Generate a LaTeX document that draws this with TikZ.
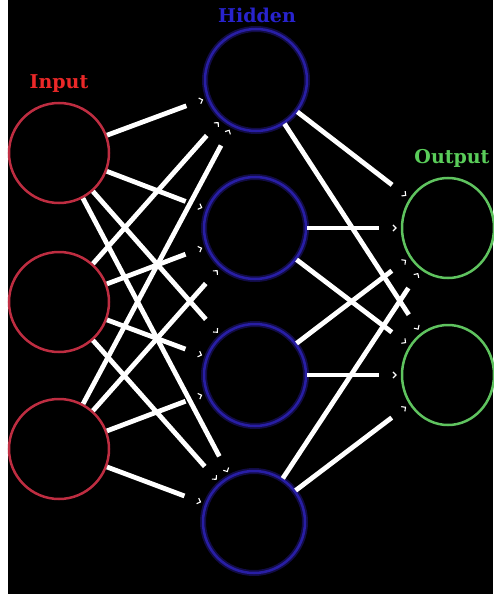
\documentclass[tikz,border=0pt]{standalone}
\usepackage{fontspec}
\setmainfont{DejaVu Serif}
\usetikzlibrary{arrows.meta,decorations.markings,shapes.geometric}
\definecolor{inred}{RGB}{190,45,65}
\definecolor{inlab}{RGB}{235,40,40}
\definecolor{hidblue}{RGB}{40,30,165}
\definecolor{hidglow}{RGB}{18,12,70}
\definecolor{hidlab}{RGB}{40,35,205}
\definecolor{outgreen}{RGB}{95,195,95}
\definecolor{outlab}{RGB}{90,205,90}
\tikzset{
  neuron/.style={circle, line width=2.5pt, minimum size=100pt, inner sep=0pt},
  inneuron/.style={neuron, draw=inred},
  hidneuron/.style={neuron, minimum size=102pt, draw=hidblue,
     preaction={draw=hidglow, line width=6pt}},
  outneuron/.style={ellipse, line width=2.5pt, minimum width=92pt, minimum height=100pt, inner sep=0pt, draw=outgreen},
  lab/.style={font=\bfseries\fontsize{19}{22}\selectfont, inner sep=0pt},
  conn/.style={white, line width=4.8pt, shorten >=22pt,
     postaction={decorate, decoration={markings,
       mark=at position -4pt with {\arrow[white, line width=1.1pt]{Straight Barb[length=3pt,width=6pt]}}}}}
}
\begin{document}
\begin{tikzpicture}[x=1pt,y=-1pt]
\useasboundingbox (0,0) rectangle (493,594);
\fill[white] (0,0) rectangle (493,594);
\fill[black] (8,0) rectangle (493,594);
% input layer
\node[inneuron] (i1) at (59,153) {};
\node[inneuron] (i2) at (59,302) {};
\node[inneuron] (i3) at (59,449) {};
% hidden layer
\node[hidneuron] (h1) at (256,80) {};
\node[hidneuron] (h2) at (255,228) {};
\node[hidneuron] (h3) at (255,375) {};
\node[hidneuron] (h4) at (254,522) {};
% output layer
\node[outneuron] (o1) at (448,228) {};
\node[outneuron] (o2) at (448,375) {};
% labels
\node[lab, text=inlab] (lin) at (59,84) {Input};
\node[lab, text=hidlab] (lhid) at (257,15) {Hidden};
\node[lab, text=outlab] (lout) at (452,158) {Output};
% connections
\foreach \a in {1,2,3}{
  \foreach \b in {1,2,3,4}{
    \draw[conn] (i\a) -- (h\b);
  }
}
\foreach \b in {1,2,3,4}{
  \foreach \c in {1,2}{
    \draw[conn] (h\b) -- (o\c);
  }
}
\end{tikzpicture}
\end{document}
